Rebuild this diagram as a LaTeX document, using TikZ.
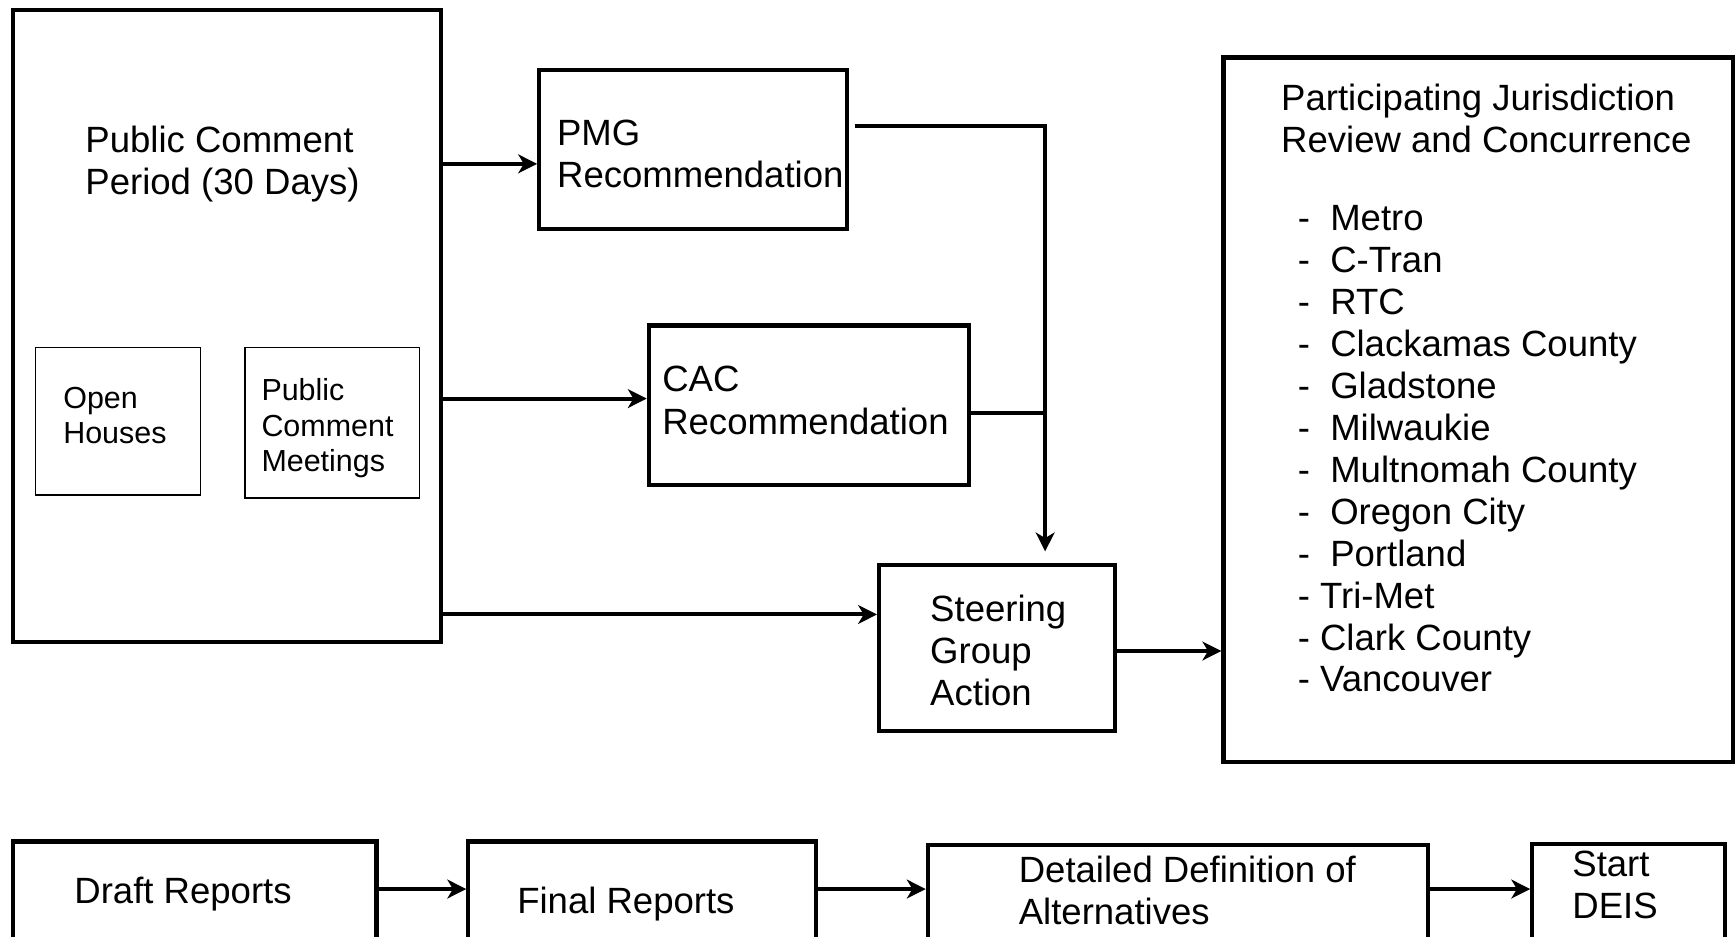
\documentclass[tikz,border=0pt]{standalone}
\usepackage{fontspec}
\setmainfont{Liberation Sans}
\usetikzlibrary{arrows.meta}
\begin{document}
\begin{tikzpicture}[x=1pt,y=-1pt,
  heavy/.style={draw,line width=3.8pt,inner sep=0pt},
  light/.style={draw,line width=1.5pt,inner sep=0pt},
  lbl/.style={anchor=base west,inner sep=0pt,align=left,font=\fontsize{33}{38}\selectfont},
  listlbl/.style={anchor=base west,inner sep=0pt,align=left,font=\fontsize{33}{37.9}\selectfont},
  small/.style={anchor=base west,inner sep=0pt,align=left,font=\fontsize{27.5}{32}\selectfont},
  arr/.style={line width=3.6pt,-{Stealth[length=17pt,width=17pt,inset=5pt]}},
  link/.style={line width=3.6pt}]
\useasboundingbox (0,0) rectangle (1568,846);

% public comment period with its two activities
\node[heavy,minimum width=386pt,minimum height=571pt] (pcp) at (205,294.5) {};
\node[lbl] (pcpt) at (77,176) {Public Comment\\Period (30 Days)};
\node[light,minimum width=149pt,minimum height=133pt] (oh) at (106.5,380.5) {};
\node[small] (oht) at (57,401) {Open\\Houses};
\node[light,minimum width=158pt,minimum height=136pt] (pcm) at (300,382) {};
\node[small] (pcmt) at (236,426) {Public\\Comment\\Meetings};

% recommendations
\node[heavy,minimum width=278pt,minimum height=144pt] (pmg) at (626,135) {};
\node[lbl] (pmgt) at (503,169) {PMG\\Recommendation};
\node[heavy,minimum width=289pt,minimum height=144pt] (cac) at (730.5,366) {};
\node[lbl] (cact) at (598,392) {CAC\\Recommendation};

% steering group
\node[heavy,minimum width=213pt,minimum height=150pt] (sga) at (900.5,585) {};
\node[lbl] (sgat) at (840,637) {Steering\\Group\\Action};

% jurisdictions
\node[heavy,minimum width=460pt,minimum height=636pt] (pj) at (1335,370) {};
\node[lbl] (pjt) at (1157,138) {Participating Jurisdiction\\Review and Concurrence};
\node[listlbl] (pjl) at (1172,625) {-~~Metro\\-~~C-Tran\\-~~RTC\\-~~Clackamas County\\-~~Gladstone\\-~~Milwaukie\\-~~Multnomah County\\-~~Oregon City\\-~~Portland\\- Tri-Met\\- Clark County\\- Vancouver};

% report sequence
\node[heavy,minimum width=328pt,minimum height=140pt] (dr) at (176,830) {};
\node[lbl] (drt) at (67,816) {Draft Reports};
\node[heavy,minimum width=314pt,minimum height=140pt] (fr) at (580,830) {};
\node[lbl] (frt) at (467,825) {Final Reports};
\node[heavy,minimum width=452pt,minimum height=140pt] (dd) at (1064,833) {};
\node[lbl] (ddt) at (920,835) {Detailed Definition of\\Alternatives};
\node[heavy,minimum width=174pt,minimum height=140pt] (sd) at (1471,832) {};
\node[lbl] (sdt) at (1420,830) {Start\\DEIS};

% connectors
\coordinate (bend) at (944,114);
\coordinate (join) at (944,373);
\coordinate (drop) at (944,498);
\draw[arr] (pcp.east |- 0,148) -- (pmg.west |- 0,148);
\draw[arr] (pcp.east |- 0,360) -- (cac.west |- 0,360);
\draw[arr] (pcp.east |- 0,555) -- (sga.west |- 0,555);
\draw[arr,line join=miter] (pmg.east |- bend) ++(5,0) -- (bend) -- (drop);
\draw[link] (cac.east |- join) -- (join);
\draw[arr] (sga.east |- 0,588) -- (pj.west |- 0,588);
\draw[arr] (dr.east |- 0,803) -- (fr.west |- 0,803);
\draw[arr] (fr.east |- 0,803) -- (dd.west |- 0,803);
\draw[arr] (dd.east |- 0,803) -- (sd.west |- 0,803);
\end{tikzpicture}
\end{document}
